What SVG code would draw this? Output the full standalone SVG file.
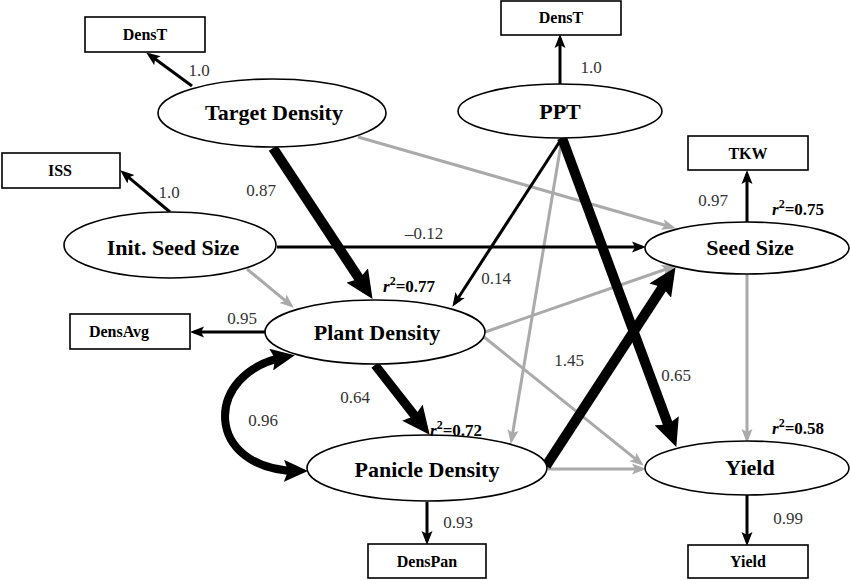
<svg xmlns="http://www.w3.org/2000/svg" width="850" height="580" viewBox="0 0 850 580">
<style>
.bg{fill:#fff}
.el{fill:#fff;stroke:#000;stroke-width:1.6}
.bx{fill:#fff;stroke:#000;stroke-width:1.6}
.nl{font-family:"Liberation Serif","Times New Roman",serif;font-weight:bold;font-size:22px;text-anchor:middle;fill:#000}
.bl{font-family:"Liberation Serif","Times New Roman",serif;font-weight:bold;font-size:16px;text-anchor:middle;fill:#000}
.cf{font-family:"Liberation Serif","Times New Roman",serif;font-size:17px;text-anchor:middle;fill:#333}
.r2{font-family:"Liberation Serif","Times New Roman",serif;font-weight:bold;font-size:17px;fill:#000}
.k{fill:none;stroke:#000;stroke-width:3}
.g{fill:none;stroke:#aaa;stroke-width:3}
.t{fill:none;stroke:#000;stroke-width:10}
</style>
<defs>
<marker id="hs" markerUnits="userSpaceOnUse" markerWidth="14" markerHeight="12" refX="10" refY="6" orient="auto"><path d="M0,0.5 L14,6 L0,11.5 L3,6 z" fill="#000"/></marker>
<marker id="hg" markerUnits="userSpaceOnUse" markerWidth="14" markerHeight="12" refX="10" refY="6" orient="auto"><path d="M0,0.5 L14,6 L0,11.5 L3,6 z" fill="#aaa"/></marker>
<marker id="hb" markerUnits="userSpaceOnUse" markerWidth="28" markerHeight="26" refX="17" refY="13" orient="auto"><path d="M0,0 L28,13 L0,26 L4,13 z" fill="#000"/></marker>
<marker id="hc" markerUnits="userSpaceOnUse" markerWidth="24" markerHeight="22" refX="14" refY="11" orient="auto-start-reverse"><path d="M0,0 L24,11 L0,22 L4,11 z" fill="#000"/></marker>
</defs>
<rect class="bg" x="0" y="0" width="850" height="580"/>
<g id="connectors">
<line class="g" x1="358" y1="137" x2="672" y2="227.2" marker-end="url(#hg)"/>
<line class="g" x1="247" y1="269" x2="290.7" y2="305.1" marker-end="url(#hg)"/>
<line class="g" x1="562" y1="138" x2="511.5" y2="440" marker-end="url(#hg)"/>
<line class="g" x1="485" y1="332" x2="672.2" y2="267" marker-end="url(#hg)"/>
<line class="g" x1="484" y1="337" x2="640.7" y2="463.2" marker-end="url(#hg)"/>
<line class="g" x1="548" y1="469" x2="642" y2="469" marker-end="url(#hg)"/>
<line class="g" x1="747" y1="274" x2="747" y2="439" marker-end="url(#hg)"/>
<line class="k" x1="192" y1="86" x2="149.4" y2="54.8" marker-end="url(#hs)"/>
<line class="k" x1="170" y1="212" x2="123.3" y2="172.9" marker-end="url(#hs)"/>
<line class="k" x1="560" y1="84" x2="560" y2="38" marker-end="url(#hs)"/>
<line class="k" x1="747" y1="222" x2="747" y2="174" marker-end="url(#hs)"/>
<line class="k" x1="265" y1="332" x2="194" y2="332" marker-end="url(#hs)"/>
<line class="k" x1="427" y1="502" x2="427" y2="541" marker-end="url(#hs)"/>
<line class="k" x1="747" y1="495" x2="747" y2="542" marker-end="url(#hs)"/>
<line class="k" x1="277" y1="247" x2="642" y2="247" marker-end="url(#hs)"/>
<line class="k" x1="562" y1="138" x2="454.6" y2="303.5" marker-end="url(#hs)"/>
<line class="t" x1="273" y1="148" x2="366.5" y2="289.7" marker-end="url(#hb)"/>
<line class="t" x1="562" y1="138" x2="672.5" y2="436.6" marker-end="url(#hb)"/>
<line class="t" x1="375" y1="365" x2="422.9" y2="426.1" style="stroke-width:9" marker-end="url(#hb)"/>
<line class="t" x1="546" y1="466" x2="669.5" y2="276.4" marker-end="url(#hb)"/>
<path class="k" style="stroke-width:8" d="M285,357 C203,372 203,470 298,471" marker-start="url(#hc)" marker-end="url(#hc)"/>
</g>
<g id="lbl-coef">
<text class="cf" x="199" y="76">1.0</text>
<text class="cf" x="169" y="198">1.0</text>
<text class="cf" x="591" y="73">1.0</text>
<text class="cf" x="261" y="196">0.87</text>
<text class="cf" x="424" y="239">–0.12</text>
<text class="cf" x="496" y="284">0.14</text>
<text class="cf" x="713" y="206">0.97</text>
<text class="cf" x="242" y="324">0.95</text>
<text class="cf" x="355" y="403">0.64</text>
<text class="cf" x="263" y="426">0.96</text>
<text class="cf" x="569" y="366">1.45</text>
<text class="cf" x="676" y="381">0.65</text>
<text class="cf" x="458" y="528">0.93</text>
<text class="cf" x="788" y="524">0.99</text>
</g>
<g id="target-density"><ellipse class="el" cx="272" cy="113" rx="114" ry="34"/><text class="nl" x="274" y="120">Target Density</text></g>
<g id="ppt"><ellipse class="el" cx="560" cy="111" rx="102" ry="27"/><text class="nl" x="560" y="119">PPT</text></g>
<g id="init-seed-size"><ellipse class="el" cx="170" cy="245" rx="106" ry="33"/><text class="nl" x="173" y="255">Init. Seed Size</text></g>
<g id="seed-size"><ellipse class="el" cx="747" cy="248" rx="102" ry="26"/><text class="nl" x="750" y="255">Seed Size</text></g>
<g id="plant-density"><ellipse class="el" cx="375" cy="332" rx="110" ry="32"/><text class="nl" x="377" y="340">Plant Density</text></g>
<g id="panicle-density"><ellipse class="el" cx="427" cy="468" rx="120" ry="33"/><text class="nl" x="427" y="477">Panicle Density</text></g>
<g id="yield"><ellipse class="el" cx="747" cy="468" rx="102" ry="27"/><text class="nl" x="750" y="475">Yield</text></g>
<g id="box-denst-1"><rect class="bx" x="85" y="17" width="120" height="35"/><text class="bl" x="145" y="40">DensT</text></g>
<g id="box-iss"><rect class="bx" x="2" y="153" width="118" height="35"/><text class="bl" x="60" y="176">ISS</text></g>
<g id="box-denst-2"><rect class="bx" x="501" y="1" width="120" height="34"/><text class="bl" x="561" y="23">DensT</text></g>
<g id="box-tkw"><rect class="bx" x="688" y="136" width="120" height="34"/><text class="bl" x="748" y="159">TKW</text></g>
<g id="box-densavg"><rect class="bx" x="70" y="314" width="120" height="35"/><text class="bl" x="119" y="337">DensAvg</text></g>
<g id="box-denspan"><rect class="bx" x="368" y="544" width="118" height="34"/><text class="bl" x="427" y="567">DensPan</text></g>
<g id="box-yield"><rect class="bx" x="688" y="545" width="120" height="33"/><text class="bl" x="748" y="567">Yield</text></g>
<g id="lbl-r2">
<text class="r2" x="383" y="292"><tspan font-style="italic">r</tspan><tspan font-size="12" dy="-7">2</tspan><tspan dy="7">=0.77</tspan></text>
<text class="r2" x="430" y="436"><tspan font-style="italic">r</tspan><tspan font-size="12" dy="-7">2</tspan><tspan dy="7">=0.72</tspan></text>
<text class="r2" x="772" y="215"><tspan font-style="italic">r</tspan><tspan font-size="12" dy="-7">2</tspan><tspan dy="7">=0.75</tspan></text>
<text class="r2" x="772" y="434"><tspan font-style="italic">r</tspan><tspan font-size="12" dy="-7">2</tspan><tspan dy="7">=0.58</tspan></text>
</g>
</svg>
